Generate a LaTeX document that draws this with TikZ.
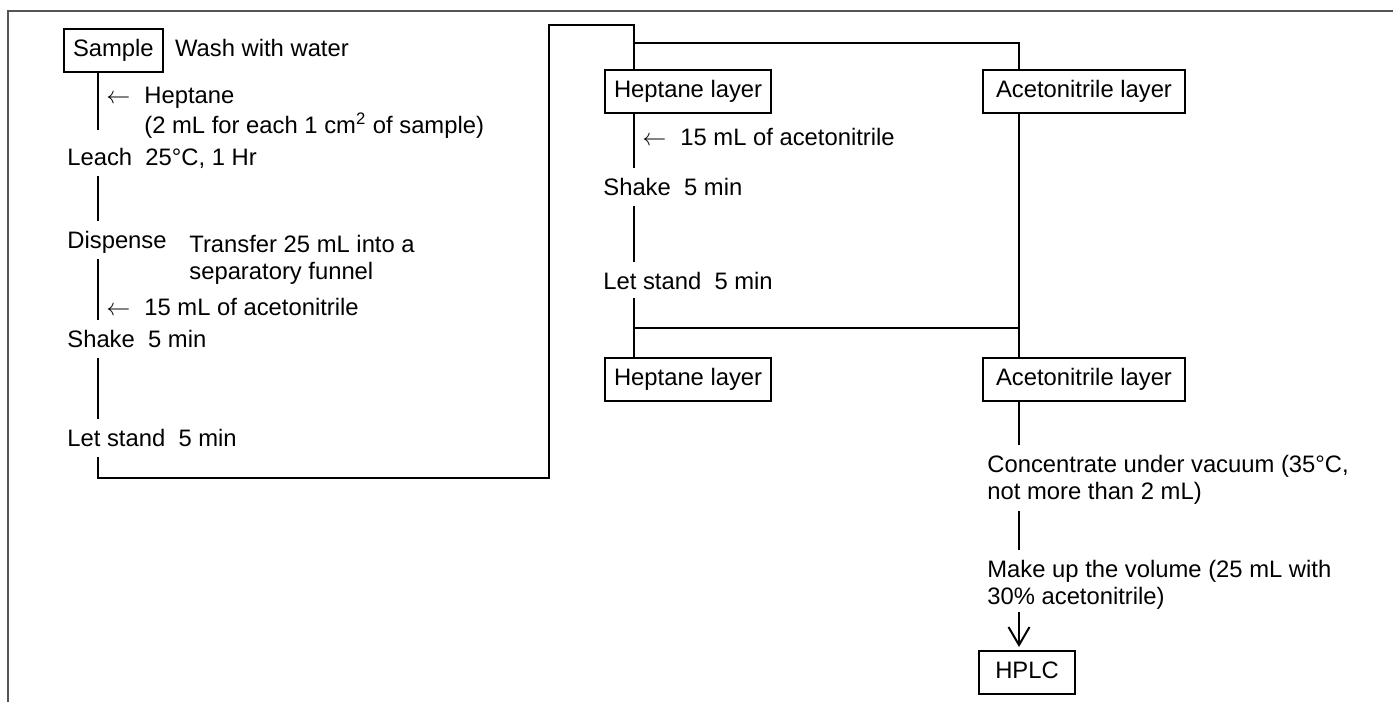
\documentclass[tikz,border=0pt]{standalone}
\usepackage{fontspec}
\setmainfont{Liberation Sans}
\usepackage{tikz}
\usetikzlibrary{arrows.meta, positioning}
\definecolor{framegray}{RGB}{85,85,85}

\begin{document}
\begin{tikzpicture}[
        x=0.5pt, y=-0.5pt,
        font=\fontsize{11.9}{13.5}\selectfont,
        wire/.style={line width=1pt},
        link/.style={wire,shorten <=3pt,shorten >=5pt},
        feed/.style={wire,-{Straight Barb[length=9pt,width=10.5pt]}},
        layerbox/.style={draw,line width=1pt,inner xsep=4.5pt,minimum height=21.5pt,text height=8.5pt,text depth=2.5pt,anchor=north west},
        stage/.style={inner sep=0pt,text height=8.5pt,text depth=2.5pt,anchor=base west},
        note/.style={inner sep=0pt,align=left,anchor=north west}
    ]
        \useasboundingbox (0,0) rectangle (1393,702);
        \draw[line width=1.1pt,framegray] (1393,11) -- (8,11) -- (8,702);

        % left column: leaching and extraction
        \node[layerbox] (sample) at (63,28) {Sample};
        \node[stage,right=5.5pt of sample] (wash) {Wash with water};
        \node[stage] (addhep) at (106,103) {$\leftarrow$\hspace{7pt}Heptane};
        \node[stage] (hepdose) at (144,133) {(2 mL for each 1 cm\textsuperscript{2} of sample)};
        \node[stage] (leach) at (67,165) {Leach~~25°C, 1 Hr};
        \node[stage] (disp) at (67,248) {Dispense};
        \node[note] (transfer) at (189,235) {Transfer 25 mL into a\\separatory funnel};
        \node[stage] (addacn) at (106,315) {$\leftarrow$\hspace{7pt}15 mL of acetonitrile};
        \node[stage] (shake) at (67,347) {Shake~~5 min};
        \node[stage] (stand) at (67,446) {Let stand~~5 min};

        % middle and right columns: layers
        \node[layerbox] (heptop) at (604,69) {Heptane layer};
        \node[layerbox,minimum width=101pt] (acetop) at (982,69) {Acetonitrile layer};
        \node[stage] (addacn2) at (642,145) {$\leftarrow$\hspace{7pt}15 mL of acetonitrile};
        \node[stage] (shake2) at (603,195) {Shake~~5 min};
        \node[stage] (stand2) at (603,289) {Let stand~~5 min};
        \node[layerbox] (heplow) at (604,357) {Heptane layer};
        \node[layerbox,minimum width=101pt] (acelow) at (982,357) {Acetonitrile layer};
        \node[note] (conc) at (987,455) {Concentrate under vacuum (35°C,\\not more than 2 mL)};
        \node[note] (makeup) at (987,560) {Make up the volume (25 mL with\\30\% acetonitrile)};
        \node[layerbox,minimum width=48pt] (hplc) at (978,650) {HPLC};

        \coordinate (lspine) at (98,0);
        \coordinate (mspine) at (634,0);
        \coordinate (rspine) at (1019,0);
        \coordinate (loopcorner) at (549,478);
        \coordinate (hepfeed) at (634,25);
        \coordinate (split) at (634,43);
        \coordinate (merge) at (634,328);

        \draw[wire,shorten >=9pt] (sample.south -| lspine) -- (leach.north -| lspine);
        \draw[link] (leach.south -| lspine) -- (disp.north -| lspine);
        \draw[link] (disp.south -| lspine) -- (shake.north -| lspine);
        \draw[link] (shake.south -| lspine) -- (stand.north -| lspine);
        \draw[wire,shorten <=3pt] (stand.south -| lspine) |- (loopcorner) |- (hepfeed) -- (heptop.north -| mspine);
        \draw[wire] (split) -| (acetop.north -| rspine);

        \draw[link,shorten <=0pt] (heptop.south -| mspine) -- (shake2.north -| mspine);
        \draw[link] (shake2.south -| mspine) -- (stand2.north -| mspine);
        \draw[wire,shorten <=2pt] (stand2.south -| mspine) -- (heplow.north -| mspine);
        \draw[wire] (acetop.south -| rspine) -- (acelow.north -| rspine);
        \draw[wire] (merge) -- (merge -| rspine);

        \draw[link,shorten <=0pt] (acelow.south -| rspine) -- (conc.north -| rspine);
        \draw[link] (conc.south -| rspine) -- (makeup.north -| rspine);
        \draw[feed,shorten <=1pt,shorten >=1.5pt] (makeup.south -| rspine) -- (hplc.north -| rspine);
    \end{tikzpicture}
\end{document}
